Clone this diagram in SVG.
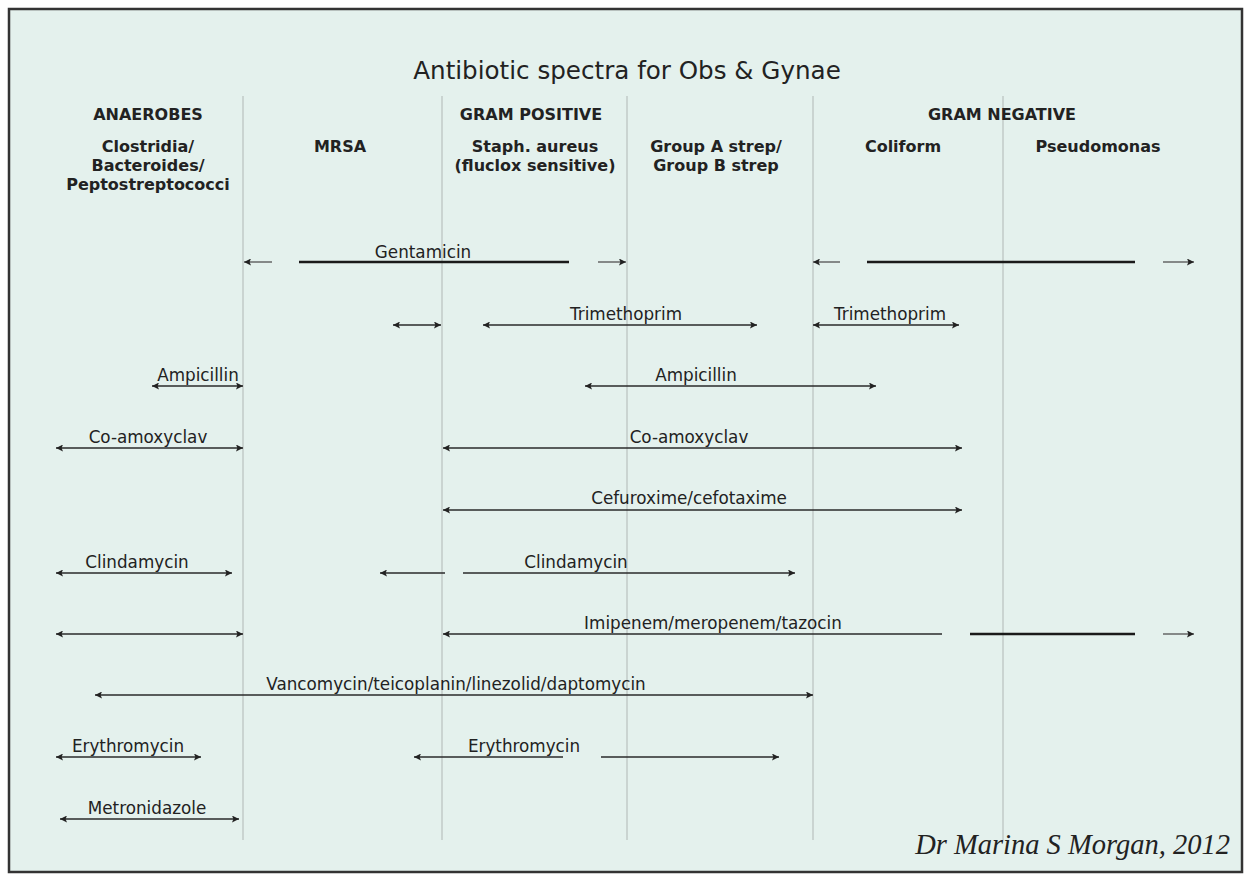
<svg xmlns="http://www.w3.org/2000/svg" width="1247" height="874" viewBox="0 0 1247 874">
<style>
.t{font-family:"DejaVu Sans",Verdana,sans-serif;fill:#222;text-anchor:middle}
.h{font-size:16px;font-weight:bold}
.l{font-size:16.8px}
.v{stroke:#c2cac7;stroke-width:1.5}
.a{stroke:#2a2a2a;stroke-width:1.4;fill:none}
.g{stroke:#666;stroke-width:1.5;fill:none}
.k{stroke:#1a1a1a;stroke-width:2.5;fill:none}
</style>
<defs>
<marker id="ah" viewBox="0 0 10 10" refX="10" refY="5" markerWidth="11" markerHeight="7" markerUnits="userSpaceOnUse" orient="auto-start-reverse">
<path d="M0,0 L10,5 L0,10 L2,5 z" fill="#222"/>
</marker>
</defs>
<rect x="0" y="0" width="1247" height="874" fill="#fff"/>
<rect x="9" y="9" width="1233" height="863" fill="#e4f1ed" stroke="#333" stroke-width="2.5"/>
<text class="t" x="627" y="79" font-size="24.6">Antibiotic spectra for Obs &amp; Gynae</text>
<g id="gridlines">
<line class="v" x1="243" y1="96" x2="243" y2="840"/>
<line class="v" x1="442" y1="96" x2="442" y2="840"/>
<line class="v" x1="627" y1="96" x2="627" y2="840"/>
<line class="v" x1="813" y1="96" x2="813" y2="840"/>
<line class="v" x1="1003" y1="96" x2="1003" y2="840"/>
</g>
<g id="anaerobes">
<text class="t h" x="148" y="120">ANAEROBES</text>
<text class="t h" x="148" y="152">Clostridia/</text>
<text class="t h" x="148" y="171">Bacteroides/</text>
<text class="t h" x="148" y="190">Peptostreptococci</text>
</g>
<g id="mrsa"><text class="t h" x="340" y="152">MRSA</text></g>
<g id="grampos"><text class="t h" x="531" y="120">GRAM POSITIVE</text></g>
<g id="staph">
<text class="t h" x="535" y="152">Staph. aureus</text>
<text class="t h" x="535" y="171">(fluclox sensitive)</text>
</g>
<g id="strep">
<text class="t h" x="716" y="152">Group A strep/</text>
<text class="t h" x="716" y="171">Group B strep</text>
</g>
<g id="gramneg"><text class="t h" x="1002" y="120">GRAM NEGATIVE</text></g>
<g id="coliform"><text class="t h" x="903" y="152">Coliform</text></g>
<g id="pseudomonas"><text class="t h" x="1098" y="152">Pseudomonas</text></g>
<g id="connectors">
<line class="g" x1="244" y1="262" x2="272" y2="262" marker-start="url(#ah)"/>
<line class="k" x1="299" y1="262" x2="569" y2="262"/>
<line class="g" x1="598" y1="262" x2="626" y2="262" marker-end="url(#ah)"/>
<line class="g" x1="813" y1="262" x2="840" y2="262" marker-start="url(#ah)"/>
<line class="k" x1="867" y1="262" x2="1135" y2="262"/>
<line class="g" x1="1163" y1="262" x2="1194" y2="262" marker-end="url(#ah)"/>
<line class="a" x1="393" y1="325" x2="441" y2="325" marker-start="url(#ah)" marker-end="url(#ah)"/>
<line class="a" x1="483" y1="325" x2="757" y2="325" marker-start="url(#ah)" marker-end="url(#ah)"/>
<line class="a" x1="813" y1="325" x2="959" y2="325" marker-start="url(#ah)" marker-end="url(#ah)"/>
<line class="a" x1="152" y1="386" x2="243" y2="386" marker-start="url(#ah)" marker-end="url(#ah)"/>
<line class="a" x1="585" y1="386" x2="876" y2="386" marker-start="url(#ah)" marker-end="url(#ah)"/>
<line class="a" x1="56" y1="448" x2="243" y2="448" marker-start="url(#ah)" marker-end="url(#ah)"/>
<line class="a" x1="443" y1="448" x2="962" y2="448" marker-start="url(#ah)" marker-end="url(#ah)"/>
<line class="a" x1="443" y1="510" x2="962" y2="510" marker-start="url(#ah)" marker-end="url(#ah)"/>
<line class="a" x1="56" y1="573" x2="232" y2="573" marker-start="url(#ah)" marker-end="url(#ah)"/>
<line class="a" x1="380" y1="573" x2="445" y2="573" marker-start="url(#ah)"/>
<line class="a" x1="463" y1="573" x2="795" y2="573" marker-end="url(#ah)"/>
<line class="a" x1="56" y1="634" x2="243" y2="634" marker-start="url(#ah)" marker-end="url(#ah)"/>
<line class="a" x1="443" y1="634" x2="942" y2="634" marker-start="url(#ah)"/>
<line class="k" x1="970" y1="634" x2="1135" y2="634"/>
<line class="g" x1="1163" y1="634" x2="1194" y2="634" marker-end="url(#ah)"/>
<line class="a" x1="95" y1="695" x2="813" y2="695" marker-start="url(#ah)" marker-end="url(#ah)"/>
<line class="a" x1="56" y1="757" x2="201" y2="757" marker-start="url(#ah)" marker-end="url(#ah)"/>
<line class="a" x1="414" y1="757" x2="563" y2="757" marker-start="url(#ah)"/>
<line class="a" x1="601" y1="757" x2="779" y2="757" marker-end="url(#ah)"/>
<line class="a" x1="60" y1="819" x2="239" y2="819" marker-start="url(#ah)" marker-end="url(#ah)"/>
</g>
<g id="labels">
<text class="t l" x="423" y="258">Gentamicin</text>
<text class="t l" x="626" y="320">Trimethoprim</text>
<text class="t l" x="890" y="320">Trimethoprim</text>
<text class="t l" x="198" y="381">Ampicillin</text>
<text class="t l" x="696" y="381">Ampicillin</text>
<text class="t l" x="148" y="443">Co-amoxyclav</text>
<text class="t l" x="689" y="443">Co-amoxyclav</text>
<text class="t l" x="689" y="504">Cefuroxime/cefotaxime</text>
<text class="t l" x="137" y="568">Clindamycin</text>
<text class="t l" x="576" y="568">Clindamycin</text>
<text class="t l" x="713" y="629">Imipenem/meropenem/tazocin</text>
<text class="t l" x="456" y="690">Vancomycin/teicoplanin/linezolid/daptomycin</text>
<text class="t l" x="128" y="752">Erythromycin</text>
<text class="t l" x="524" y="752">Erythromycin</text>
<text class="t l" x="147" y="814">Metronidazole</text>
</g>
<text x="1230" y="854" font-family="Liberation Serif,serif" font-style="italic" font-size="28.5" fill="#222" text-anchor="end">Dr Marina S Morgan, 2012</text>
</svg>
